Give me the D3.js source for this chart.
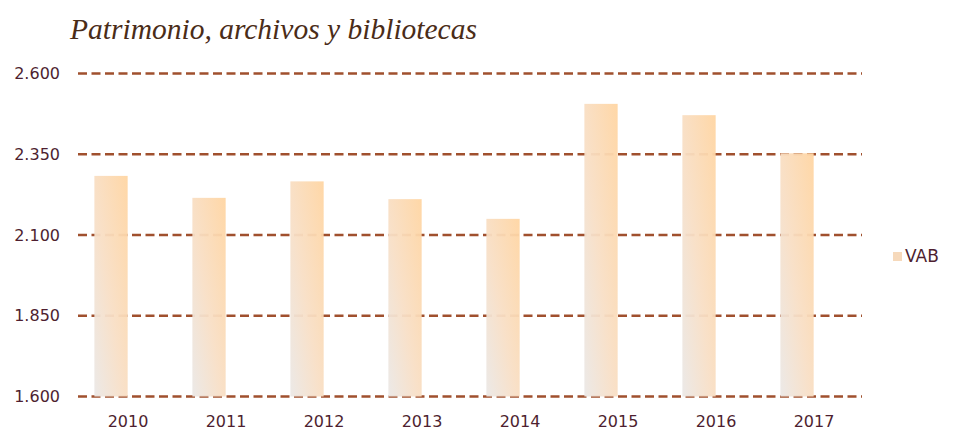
<!DOCTYPE html>
<html>
<head>
<meta charset="utf-8">
<script src="https://cdn.jsdelivr.net/npm/d3@7"></script>
<style>
  body { margin: 0; background: #fff; }
  svg { display: block; }
  .titletext { font-family: "Liberation Serif", serif; font-style: italic; }
  .axis text { font-family: "DejaVu Sans", sans-serif; fill: #4e1f30; }
</style>
</head>
<body>
<div id="chart"></div>
<script>
const years = ["2010", "2011", "2012", "2013", "2014", "2015", "2016", "2017"];
const vab = [2283, 2215, 2266, 2211, 2150, 2506, 2471, 2353];
const yTicks = [1600, 1850, 2100, 2350, 2600];
const seriesNames = ["VAB", "hueco"];

const width = 958, height = 432;
const margin = {top: 73.5, right: 95, bottom: 35.5, left: 79};

const svg = d3.select("#chart")
  .append("svg")
  .attr("width", width)
  .attr("height", height);

// diagonal gradient: grey bottom-left -> orange top-right
const defs = svg.append("defs");
const grad = defs.append("linearGradient").attr("id", "barGrad")
  .attr("x1", "0%").attr("y1", "100%").attr("x2", "100%").attr("y2", "0%");
grad.append("stop").attr("offset", "0%").attr("stop-color", "#ebe8e6");
grad.append("stop").attr("offset", "45%").attr("stop-color", "#f8dfc6");
grad.append("stop").attr("offset", "100%").attr("stop-color", "#ffd5a2");

const x = d3.scaleBand()
  .domain(years)
  .range([margin.left, width - margin.right])
  .paddingInner(0.3)
  .paddingOuter(0.15);

const xSubgroup = d3.scaleBand()
  .domain(seriesNames)
  .range([0, x.bandwidth()])
  .padding(0.02);

const y = d3.scaleLinear()
  .domain([1600, 2600])
  .range([height - margin.bottom, margin.top]);

const esLocale = d3.formatLocale({decimal: ",", thousands: ".", grouping: [3], currency: ["", " €"]});
const fmt = esLocale.format(",.0f");

const plotLeft = 78, plotRight = 862;

// dashed gridlines
svg.append("g")
  .selectAll("line")
  .data(yTicks)
  .join("line")
    .attr("x1", plotLeft)
    .attr("x2", plotRight)
    .attr("y1", d => y(d))
    .attr("y2", d => y(d))
    .attr("stroke", "#a0502e")
    .attr("stroke-width", 2.6)
    .attr("stroke-dasharray", "9,4.5");

// y axis labels
svg.append("g")
  .attr("class", "axis")
  .attr("transform", `translate(${plotLeft}, 0)`)
  .call(d3.axisLeft(y).tickValues(yTicks).tickFormat(fmt).tickSize(0).tickPadding(18))
  .call(g => g.select(".domain").remove())
  .selectAll("text").style("font-size", "16px");

// x axis labels
svg.append("g")
  .attr("class", "axis")
  .attr("transform", `translate(0, ${y(1600)})`)
  .call(d3.axisBottom(x).tickSize(0).tickPadding(19))
  .call(g => g.select(".domain").remove())
  .selectAll("text").style("font-size", "16px");

// bars
svg.append("g")
  .selectAll("rect")
  .data(years.map((yr, i) => ({year: yr, value: vab[i]})))
  .join("rect")
    .attr("x", d => x(d.year) + xSubgroup("VAB"))
    .attr("y", d => y(d.value))
    .attr("width", xSubgroup.bandwidth())
    .attr("height", d => y(1600) - y(d.value))
    .attr("fill", "url(#barGrad)")
    .attr("opacity", 0.95);

// title
svg.append("text")
  .attr("class", "titletext")
  .attr("x", 70)
  .attr("y", 39)
  .attr("fill", "#4a2c18")
  .style("font-size", "29.5px")
  .text("Patrimonio, archivos y bibliotecas");

// legend
svg.append("rect").attr("x", 893).attr("y", 252).attr("width", 9).attr("height", 9).attr("fill", "#f6d9bb");
svg.append("text").attr("x", 905).attr("y", 257).text("VAB")
  .attr("dominant-baseline", "middle")
  .style("font-family", "DejaVu Sans, sans-serif")
  .style("font-size", "17px")
  .attr("fill", "#4e1f30");
</script>
</body>
</html>
